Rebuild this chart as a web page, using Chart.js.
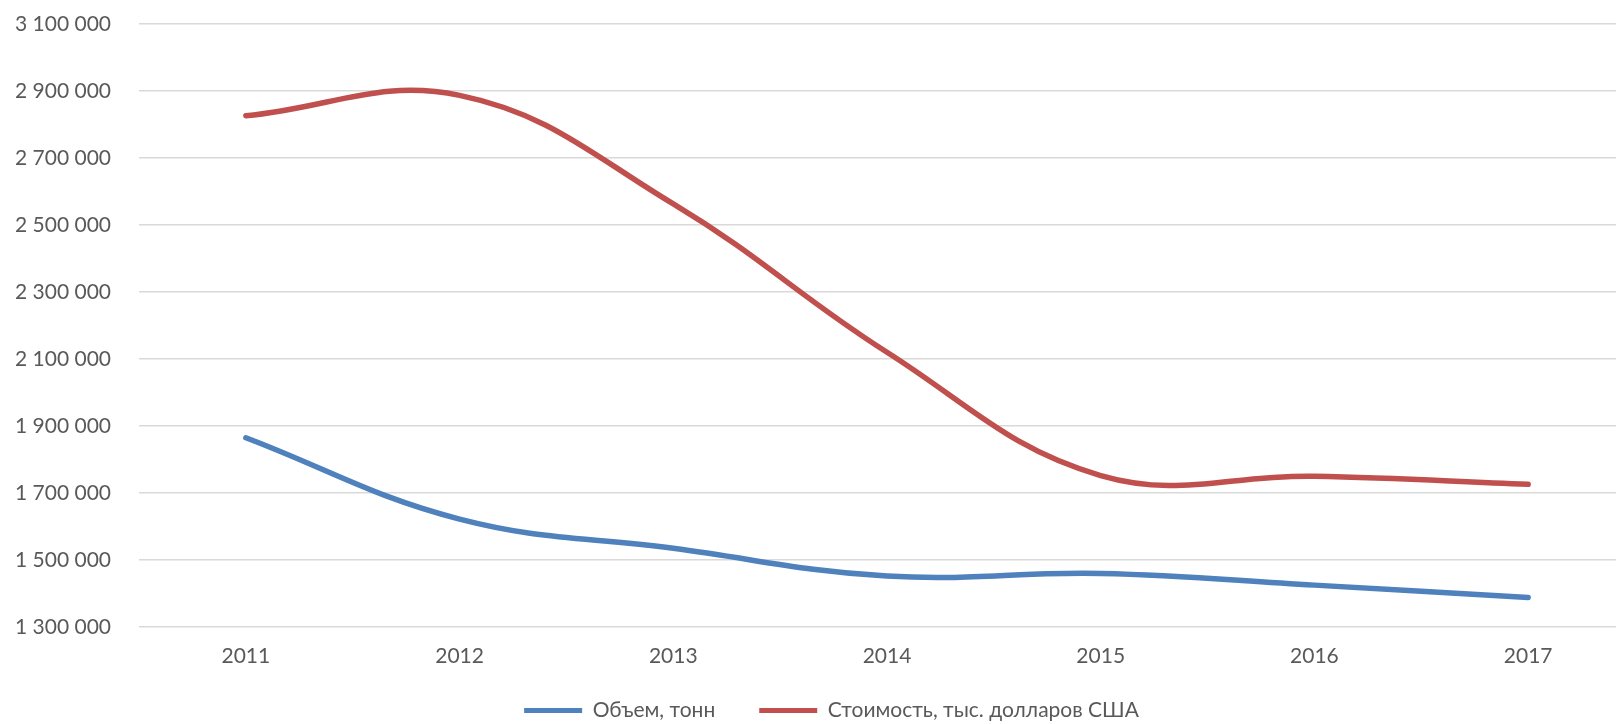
<!DOCTYPE html>
<html>
<head>
<meta charset="utf-8">
<script src="https://cdn.jsdelivr.net/npm/chart.js@4/dist/chart.umd.min.js"></script>
<style>
  html, body { margin: 0; padding: 0; background: #fff; overflow: hidden; }
  #wrap { position: absolute; left: 0; top: 0; width: 1640px; height: 724px; }
</style>
</head>
<body>
<div id="wrap"><canvas id="c" width="1640" height="724"></canvas></div>
<script>
const categories = ['2011', '2012', '2013', '2014', '2015', '2016', '2017'];
const volumeTons = [1865000, 1622000, 1535000, 1452000, 1460000, 1425000, 1388000];
const valueThousandUSD = [2826000, 2887000, 2563000, 2120000, 1752000, 1750000, 1726000];
const seriesNames = ['Объем, тонн', 'Стоимость, тыс. долларов США'];
const yMin = 1300000, yMax = 3100000, yStep = 200000;

const FONT = 'Lato, "Open Sans", "Liberation Sans", sans-serif';
const fmt = v => String(Math.round(v)).replace(/\B(?=(\d{3})+(?!\d))/g, ' ');

// Moves the legend block to its place below the axis labels after layout
const legendPlacer = {
  id: 'legendPlacer',
  afterLayout(chart) {
    const lg = chart.legend;
    if (!lg) return;
    lg.top = 656;
    lg.bottom = 724;
    lg.left += 14;
    lg.right += 14;
  }
};

new Chart(document.getElementById('c'), {
  type: 'line',
  data: {
    labels: categories,
    datasets: [
      { label: seriesNames[0], data: volumeTons, borderColor: '#4F81BD', backgroundColor: '#4F81BD',
        borderWidth: 5.5, pointRadius: 0, tension: 0.4, borderCapStyle: 'round', fill: false },
      { label: seriesNames[1], data: valueThousandUSD, borderColor: '#C0504D', backgroundColor: '#C0504D',
        borderWidth: 5.5, pointRadius: 0, tension: 0.4, borderCapStyle: 'round', fill: false }
    ]
  },
  plugins: [legendPlacer],
  options: {
    responsive: false,
    animation: false,
    devicePixelRatio: 1,
    layout: { padding: { left: 0, right: 5, top: 24, bottom: 0 } },
    plugins: {
      tooltip: { enabled: false },
      legend: {
        position: 'bottom',
        maxHeight: 47,
        labels: {
          color: '#595959',
          font: { family: FONT, size: 21 },
          boxWidth: 58,
          boxHeight: 5,
          padding: 44,
          generateLabels: (chart) => chart.data.datasets.map((ds, i) => ({
            text: ds.label, fillStyle: ds.borderColor, strokeStyle: ds.borderColor,
            lineWidth: 0, hidden: false, datasetIndex: i, fontColor: '#595959'
          }))
        }
      }
    },
    scales: {
      x: {
        offset: true,
        grid: { display: false, drawTicks: false },
        border: { display: false },
        ticks: { color: '#595959', font: { family: FONT, size: 21 }, padding: 17 },
        afterFit: (s) => { s.height = 50; }
      },
      y: {
        min: yMin, max: yMax,
        grid: { color: '#D9D9D9', lineWidth: 1.5, drawTicks: true, tickLength: 26, tickColor: 'rgba(0,0,0,0)' },
        border: { display: false },
        ticks: { stepSize: yStep, color: '#595959', font: { family: FONT, size: 21 }, padding: 2,
                 callback: (v) => fmt(v) },
        afterFit: (s) => { s.width = 139; }
      }
    }
  }
});
</script>
</body>
</html>
